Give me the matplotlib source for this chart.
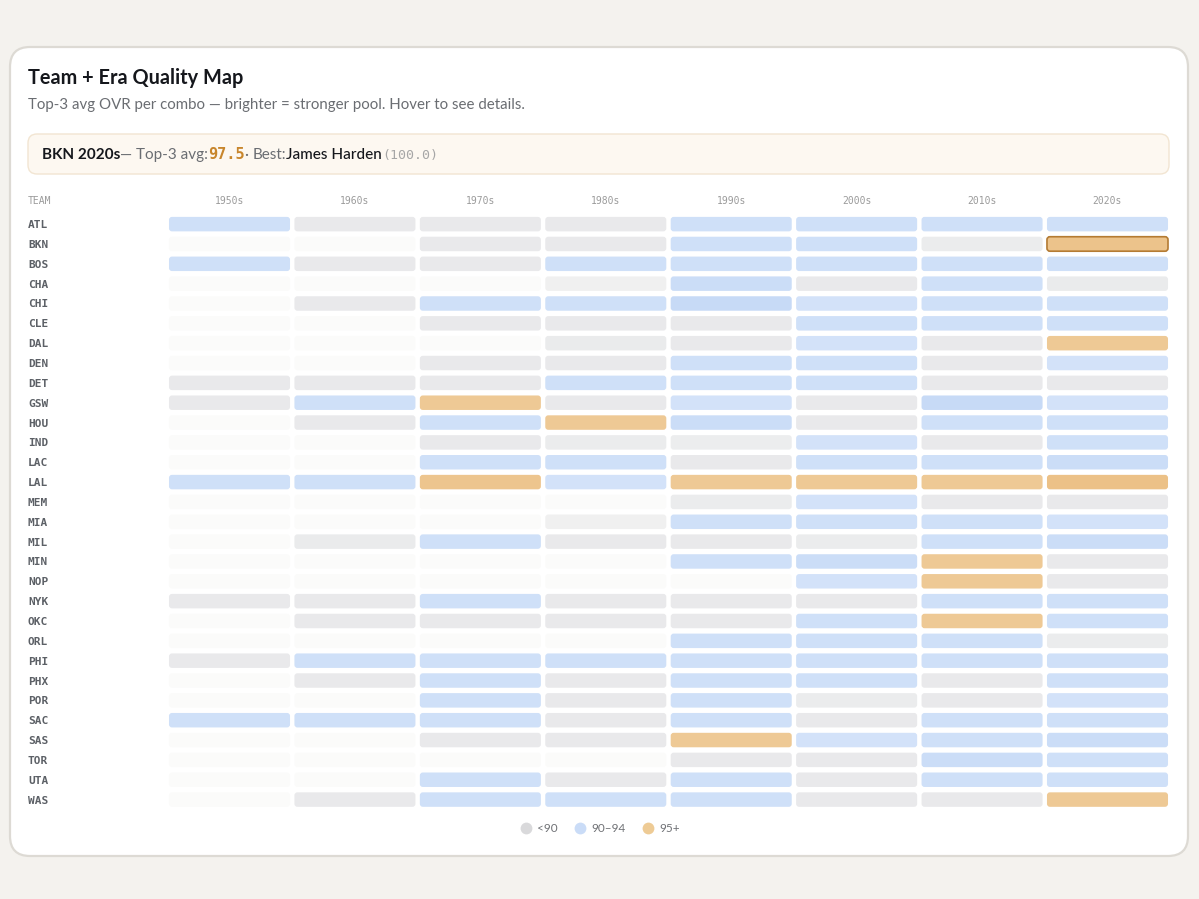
import matplotlib
matplotlib.use("Agg")
import matplotlib.pyplot as plt
import numpy as np
from matplotlib.patches import FancyBboxPatch
from matplotlib.lines import Line2D
from matplotlib.colors import to_rgb

eras = ["1950s", "1960s", "1970s", "1980s", "1990s", "2000s", "2010s", "2020s"]
teams = ["ATL", "BKN", "BOS", "CHA", "CHI", "CLE", "DAL", "DEN", "DET", "GSW",
         "HOU", "IND", "LAC", "LAL", "MEM", "MIA", "MIL", "MIN", "NOP", "NYK",
         "OKC", "ORL", "PHI", "PHX", "POR", "SAC", "SAS", "TOR", "UTA", "WAS"]

# top-3 avg OVR per team/era (None = no players in that combo)
N = None
top3_avg = [
    [92, 87, 87, 87, 92, 92, 92, 92],      # ATL
    [N, N, 87, 87, 92, 92, 85, 97.5],      # BKN
    [92, 87, 87, 92, 92, 92, 92, 92],      # BOS
    [N, N, N, 81, 93, 87, 92, 86],         # CHA
    [N, 87, 92, 92, 94, 91, 92, 92],       # CHI
    [N, N, 87, 87, 87, 92, 92, 92],        # CLE
    [N, N, N, 86, 87, 91, 87, 96],         # DAL
    [N, N, 87, 87, 92, 92, 87, 91],        # DEN
    [87, 87, 87, 92, 92, 92, 87, 87],      # DET
    [87, 92, 96, 87, 91, 87, 94, 91],      # GSW
    [N, 87, 92, 96, 93, 87, 92, 92],       # HOU
    [N, N, 87, 85, 84, 91, 87, 92],        # IND
    [N, N, 92, 92, 87, 92, 92, 93],        # LAC
    [92, 92, 97, 91, 96, 96, 96, 98],      # LAL
    [N, N, N, N, 85, 91, 87, 87],          # MEM
    [N, N, N, 81, 92, 92, 92, 91],         # MIA
    [N, 86, 92, 87, 87, 85, 92, 93],       # MIL
    [N, N, N, N, 92, 93, 96, 87],          # MIN
    [N, N, N, N, N, 91, 96, 87],           # NOP
    [87, 87, 92, 87, 87, 87, 92, 92],      # NYK
    [N, 87, 87, 87, 87, 92, 96, 92],       # OKC
    [N, N, N, N, 92, 92, 92, 85],          # ORL
    [87, 92, 92, 92, 92, 92, 92, 92],      # PHI
    [N, 87, 92, 87, 92, 92, 87, 92],       # PHX
    [N, N, 92, 87, 92, 85, 87, 91],        # POR
    [92, 92, 92, 87, 92, 87, 92, 92],      # SAC
    [N, N, 87, 87, 96, 91, 92, 93],        # SAS
    [N, N, N, N, 87, 87, 93, 92],          # TOR
    [N, N, 92, 87, 92, 87, 92, 92],        # UTA
    [N, 87, 92, 92, 92, 87, 87, 96],       # WAS
]

selected_team = "BKN"
selected_era = "2020s"
selected_avg = "97.5"
best_player = "James Harden"
best_ovr = "(100.0)"

legend_labels = ["<90", "90\u201394", "95+"]

W, H = 1199, 899
fig = plt.figure(figsize=(W / 100, H / 100), dpi=100)
fig.patch.set_facecolor("#f4f2ee")

# pixel-space layer for card / header decoration
bg = fig.add_axes([0, 0, 1, 1])
bg.set_xlim(0, W)
bg.set_ylim(H, 0)
bg.axis("off")

bg.add_patch(FancyBboxPatch((10, 47), 1178, 809,
                            boxstyle="round,pad=0,rounding_size=20",
                            fc="white", ec="#dddad4", lw=1.6))
bg.add_patch(FancyBboxPatch((28, 134), 1141, 40,
                            boxstyle="round,pad=0,rounding_size=9",
                            fc="#fdf8f1", ec="#f2e5d2", lw=1.0))

bg.text(28, 78, "Team + Era Quality Map", fontsize=14.3, fontweight="bold",
        family="Lato", color="#15171c", va="center")
bg.text(28, 105, "Top-3 avg OVR per combo \u2014 brighter = stronger pool. Hover to see details.",
        fontsize=10.8, family="Lato", color="#6a6d72", va="center")

# detail line, chained segment by segment
t = bg.text(42, 159, f"{selected_team} {selected_era}", fontsize=11,
            fontweight="bold", family="Lato", color="#15171c", va="baseline")
segs = [
    ("\u2014 Top-3 avg:", dict(family="Lato", color="#6a6d72")),
    (selected_avg, dict(family="DejaVu Sans Mono", color="#c8862c", fontweight="bold")),
    ("\u00b7 ", dict(family="Lato", color="#6a6d72")),
    ("Best:", dict(family="Lato", color="#6a6d72")),
    (best_player, dict(family="Lato", color="#15171c", fontweight="medium")),
    (best_ovr, dict(family="DejaVu Sans Mono", color="#a6a6a6", fontsize=9.5)),
]
for s, kw in segs:
    size = kw.pop("fontsize", 11)
    t = bg.annotate(s, xy=(1, 0), xycoords=t, va="bottom", ha="left",
                    fontsize=size, **kw)

bg.text(28, 201, "TEAM", fontsize=7, family="DejaVu Sans Mono",
        color="#9b9b9b", va="center")

# heatmap axes: one unit per cell
left, right, top, bottom = 166.8, 1170.2, 214.2, 809.5
hm = fig.add_axes([left / W, 1 - bottom / H, (right - left) / W, (bottom - top) / H])
hm.set_xlim(-0.5, len(eras) - 0.5)
hm.set_ylim(len(teams) - 0.5, -0.5)
hm.patch.set_alpha(0)
for sp in hm.spines.values():
    sp.set_visible(False)

hm.xaxis.tick_top()
hm.set_xticks(range(len(eras)))
hm.set_xticklabels(eras, family="DejaVu Sans Mono", fontsize=7, color="#9b9b9b")
hm.set_yticks(range(len(teams)))
hm.set_yticklabels(teams, family="DejaVu Sans Mono", fontsize=8, fontweight="bold",
                   color="#5c6066", ha="left")
hm.tick_params(axis="x", length=0, pad=6)
hm.tick_params(axis="y", length=0, pad=(left - 28) * 0.72)

stops = {
    "low": [(78, "#f4f4f3"), (89, "#e6e7e9")],
    "mid": [(90, "#d7e5fa"), (94, "#c7daf6")],
    "high": [(95, "#f0cd9c"), (99, "#eabd80")],
}


def cell_color(v):
    if v is None:
        return "#fbfbfa"
    key = "low" if v < 90 else ("mid" if v < 95 else "high")
    (a, ca), (b, cb) = stops[key]
    f = np.clip((v - a) / (b - a), 0, 1)
    return tuple((1 - f) * np.array(to_rgb(ca)) + f * np.array(to_rgb(cb)))


cw, ch = 0.965, 0.73
px_x = (right - left) / len(eras)
px_y = (bottom - top) / len(teams)
r = 3.0 / px_x
aspect = px_x / px_y
for i, row in enumerate(top3_avg):
    for j, v in enumerate(row):
        sel = teams[i] == selected_team and eras[j] == selected_era
        hm.add_patch(FancyBboxPatch((j - cw / 2, i - ch / 2), cw, ch,
                                    boxstyle=f"round,pad=0,rounding_size={r}",
                                    mutation_aspect=aspect,
                                    fc=cell_color(v),
                                    ec="#b47b33" if sel else "none",
                                    lw=1.2 if sel else 0))

handles = [Line2D([], [], ls="", marker="o", markersize=8.5, mec="none", mfc=c)
           for c in ["#d9d9db", "#cadcf7", "#eecb95"]]
leg = fig.legend(handles, legend_labels, loc="center", ncol=3, frameon=False,
                 bbox_to_anchor=(600 / W, 1 - 829 / H), handletextpad=0.45,
                 columnspacing=1.4, handlelength=1.0,
                 prop={"family": "Lato", "size": 8.5})
for txt in leg.get_texts():
    txt.set_color("#6f7175")

fig.savefig("out.png", dpi=100, facecolor=fig.get_facecolor())
